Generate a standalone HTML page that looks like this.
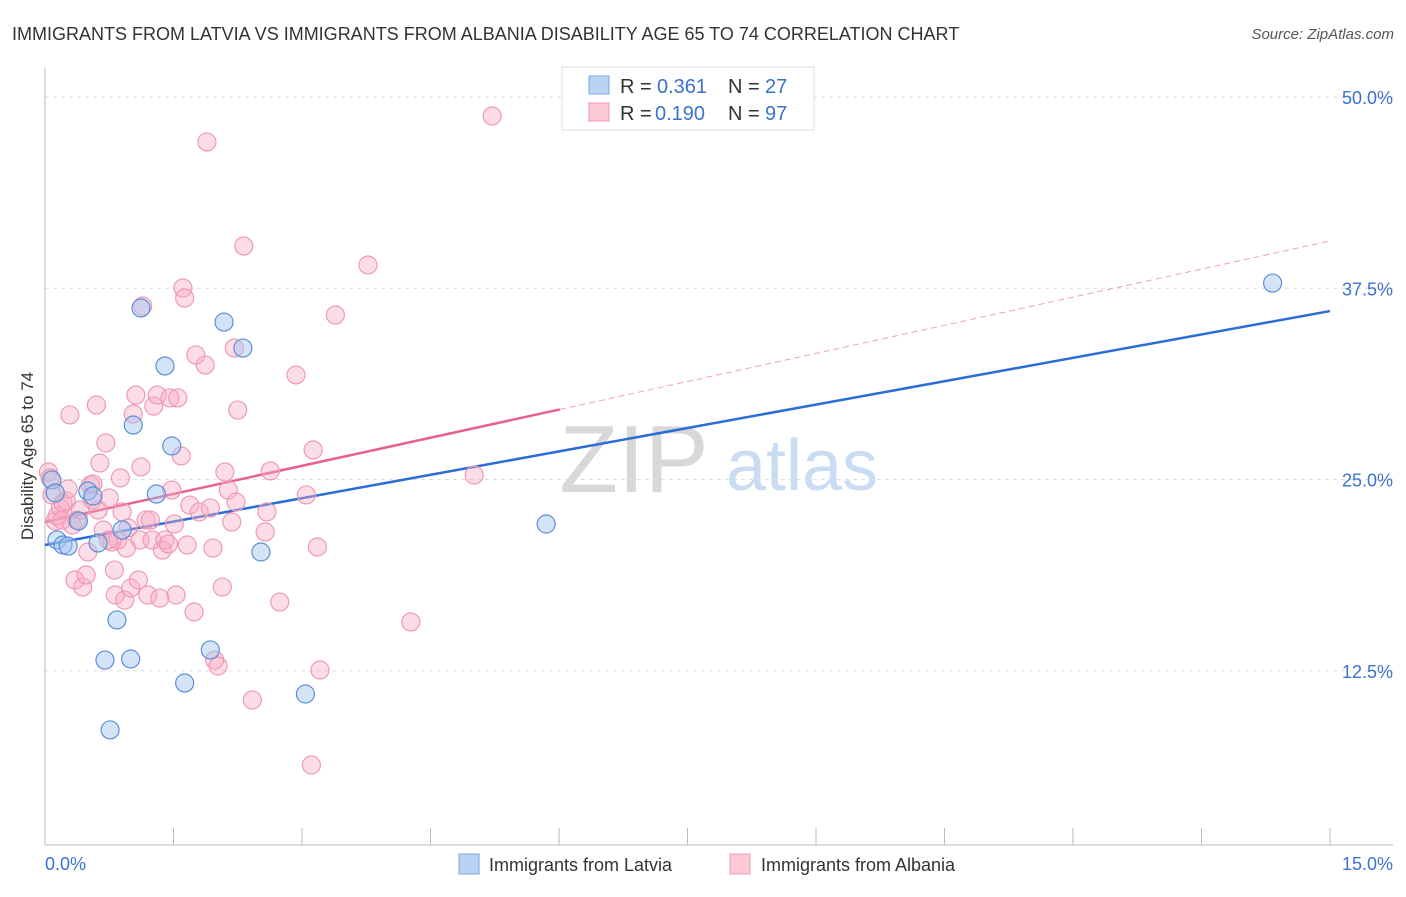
<!DOCTYPE html>
<html><head><meta charset="utf-8">
<style>
body{margin:0;background:#fff;font-family:"Liberation Sans",sans-serif;}
svg text{font-family:"Liberation Sans",sans-serif;}
</style></head>
<body>
<svg id="chart" width="1406" height="892" xmlns="http://www.w3.org/2000/svg">
<text x="12" y="40" font-size="18" fill="#333">IMMIGRANTS FROM LATVIA VS IMMIGRANTS FROM ALBANIA DISABILITY AGE 65 TO 74 CORRELATION CHART</text>
<text x="1394" y="39" font-size="15" fill="#555" text-anchor="end" font-style="italic">Source: ZipAtlas.com</text>
<text transform="translate(33,456) rotate(-90)" font-size="17" fill="#333" text-anchor="middle">Disability Age 65 to 74</text>
<g>
<text x="634" y="492" font-size="96" fill="#d8d8d8" font-family="Liberation Serif" text-anchor="middle">ZIP</text>
<text x="802" y="490" font-size="72" fill="#c9dcf3" text-anchor="middle">atlas</text>
</g>
<g id="grid"></g>
<g id="axes"></g>
<g id="lines"></g>
<g id="points"></g>
<g>
<rect x="562" y="67" width="252" height="63" fill="#fff" stroke="#ddd"/>
<rect x="589" y="76" width="20" height="18" fill="#b9d3f5" stroke="#7aa6e6"/>
<rect x="589" y="103" width="20" height="18" fill="#fbc8d6" stroke="#f09ab2"/>
<text x="620" y="93" font-size="20" fill="#333">R =</text>
<text x="657" y="93" font-size="20" fill="#3a72d0">0.361</text>
<text x="728" y="93" font-size="20" fill="#333">N =</text>
<text x="765" y="93" font-size="20" fill="#3a72d0">27</text>
<text x="620" y="120" font-size="20" fill="#333">R =</text>
<text x="655" y="120" font-size="20" fill="#3a72d0">0.190</text>
<text x="728" y="120" font-size="20" fill="#333">N =</text>
<text x="765" y="120" font-size="20" fill="#3a72d0">97</text>
</g>
<g>
<rect x="459" y="854" width="20" height="20" fill="#b9d3f5" stroke="#7aa6e6"/>
<text x="489" y="871" font-size="18" fill="#333">Immigrants from Latvia</text>
<rect x="730" y="854" width="20" height="20" fill="#fbc8d6" stroke="#f09ab2"/>
<text x="761" y="871" font-size="18" fill="#333">Immigrants from Albania</text>
</g>
</svg>
<script>
const yTicks=[12.5,25,37.5,50];
const yTickLabels=["12.5%","25.0%","37.5%","50.0%"];
const xTicks=[0,1.5,3,4.5,6,7.5,9,10.5,12,13.5,15];
const latviaX=[0.08,0.12,0.14,0.21,0.27,0.39,0.5,0.56,0.62,0.7,0.76,0.84,0.9,1.0,1.03,1.12,1.3,1.4,1.48,1.63,1.93,2.09,2.31,2.52,3.04,5.85,14.33];
const latviaY=[24.97,24.12,21.05,20.72,20.65,22.29,24.25,23.92,20.85,13.2,8.63,15.82,21.7,13.27,28.56,36.21,24.05,32.42,27.19,11.7,13.86,35.29,33.59,20.26,10.98,22.09,37.84];
const albaniaX=[0.04,0.06,0.08,0.12,0.14,0.18,0.21,0.25,0.27,0.29,0.32,0.35,0.37,0.41,0.44,0.48,0.5,0.53,0.56,0.6,0.62,0.64,0.68,0.71,0.75,0.78,0.81,0.82,0.85,0.88,0.9,0.93,0.97,1.0,1.03,1.06,1.09,1.11,1.12,1.14,1.18,1.2,1.25,1.27,1.31,1.34,1.37,1.4,1.44,1.46,1.48,1.51,1.53,1.55,1.59,1.61,1.63,1.66,1.69,1.74,1.76,1.8,1.87,1.89,1.93,1.96,1.98,2.02,2.07,2.1,2.14,2.18,2.21,2.23,2.25,2.32,2.42,2.57,2.59,2.63,2.74,2.93,3.05,3.11,3.13,3.18,3.21,3.39,3.77,4.27,5.01,5.22,0.2,0.74,1.23,0.55,0.95];
const albaniaY=[25.49,25.1,23.99,22.29,22.61,23.14,23.46,23.59,24.38,29.22,22.03,18.43,22.35,23.01,17.97,18.76,20.26,24.64,24.71,29.87,23.01,26.08,21.7,27.39,23.79,20.92,19.08,17.45,21.05,25.1,22.88,17.12,21.83,17.91,29.28,30.52,18.43,21.05,25.82,36.34,22.35,17.45,21.05,29.8,30.52,17.25,20.39,21.05,20.78,30.33,24.31,22.09,17.45,30.33,26.54,37.52,36.86,20.72,23.33,16.34,33.14,22.88,32.48,47.06,23.14,20.52,13.2,12.81,17.97,25.49,24.31,22.22,33.59,23.53,29.54,40.26,10.59,21.57,22.88,25.56,16.99,31.83,23.99,6.34,26.93,20.59,12.55,35.75,39.02,15.69,25.29,48.76,22.35,21.05,22.35,23.66,20.52];
const latviaLine=[20.72,36.01];
const albaniaLine=[22.22,40.59];
const albaniaSolidEnd=6.01;
const NS="http://www.w3.org/2000/svg";
const X0=45,X1=1330,Y0=862,K=15.3;
function xs(v){return X0+(v/15)*(X1-X0);}
function ys(v){return Y0-v*K;}
function mk(tag,attrs,parent){const e=document.createElementNS(NS,tag);for(const k in attrs)e.setAttribute(k,attrs[k]);parent.appendChild(e);return e;}
const grid=document.getElementById('grid'),axes=document.getElementById('axes'),lines=document.getElementById('lines'),pts=document.getElementById('points');
yTicks.forEach((t,i)=>{
  const l=mk('line',{x1:X0,x2:1393,y1:ys(t),y2:ys(t),stroke:'#ddd','stroke-dasharray':'4,4'},grid);
  
  
  const tx=mk('text',{x:1393,y:ys(t)+7,'font-size':18,fill:'#3a72d0','text-anchor':'end'},grid);
  tx.textContent=yTickLabels[i];
  
  
});
const ax=mk('line',{x1:X0,x2:1393,y1:845,y2:845,stroke:'#bbb'},axes);


const ay=mk('line',{x1:X0,x2:X0,y1:68,y2:845,stroke:'#bbb'},axes);


xTicks.forEach(t=>{
  const l=mk('line',{x1:xs(t),x2:xs(t),y1:828,y2:845,stroke:'#bbb'},axes);
  
  
});
const xl0=mk('text',{x:45,y:870,'font-size':18,fill:'#3a72d0'},axes);xl0.textContent='0.0%';


const xl1=mk('text',{x:1393,y:870,'font-size':18,fill:'#3a72d0','text-anchor':'end'},axes);xl1.textContent='15.0%';


function ly(line,x){return line[0]+(line[1]-line[0])*x/15;}
const pd=mk('line',{x1:xs(albaniaSolidEnd),y1:ys(ly(albaniaLine,albaniaSolidEnd)),x2:xs(15),y2:ys(ly(albaniaLine,15)),stroke:'#f0a0b8','stroke-width':1,'stroke-dasharray':'6,4'},lines);


const ps=mk('line',{x1:xs(0),y1:ys(ly(albaniaLine,0)),x2:xs(albaniaSolidEnd),y2:ys(ly(albaniaLine,albaniaSolidEnd)),stroke:'#e8608c','stroke-width':2.5},lines);


const bl=mk('line',{x1:xs(0),y1:ys(ly(latviaLine,0)),x2:xs(15),y2:ys(ly(latviaLine,15)),stroke:'#2a6dd6','stroke-width':2.5},lines);


albaniaX.forEach((x,i)=>{
  const c=mk('circle',{cx:xs(x),cy:ys(albaniaY[i]),r:9,fill:'rgba(248,170,195,0.4)',stroke:'#ee9ab4','stroke-width':1.2},pts);
  
  
});
latviaX.forEach((x,i)=>{
  const c=mk('circle',{cx:xs(x),cy:ys(latviaY[i]),r:9,fill:'rgba(160,195,240,0.45)',stroke:'#5d8fd8','stroke-width':1.2},pts);
  
  
});
</script>
</body></html>
